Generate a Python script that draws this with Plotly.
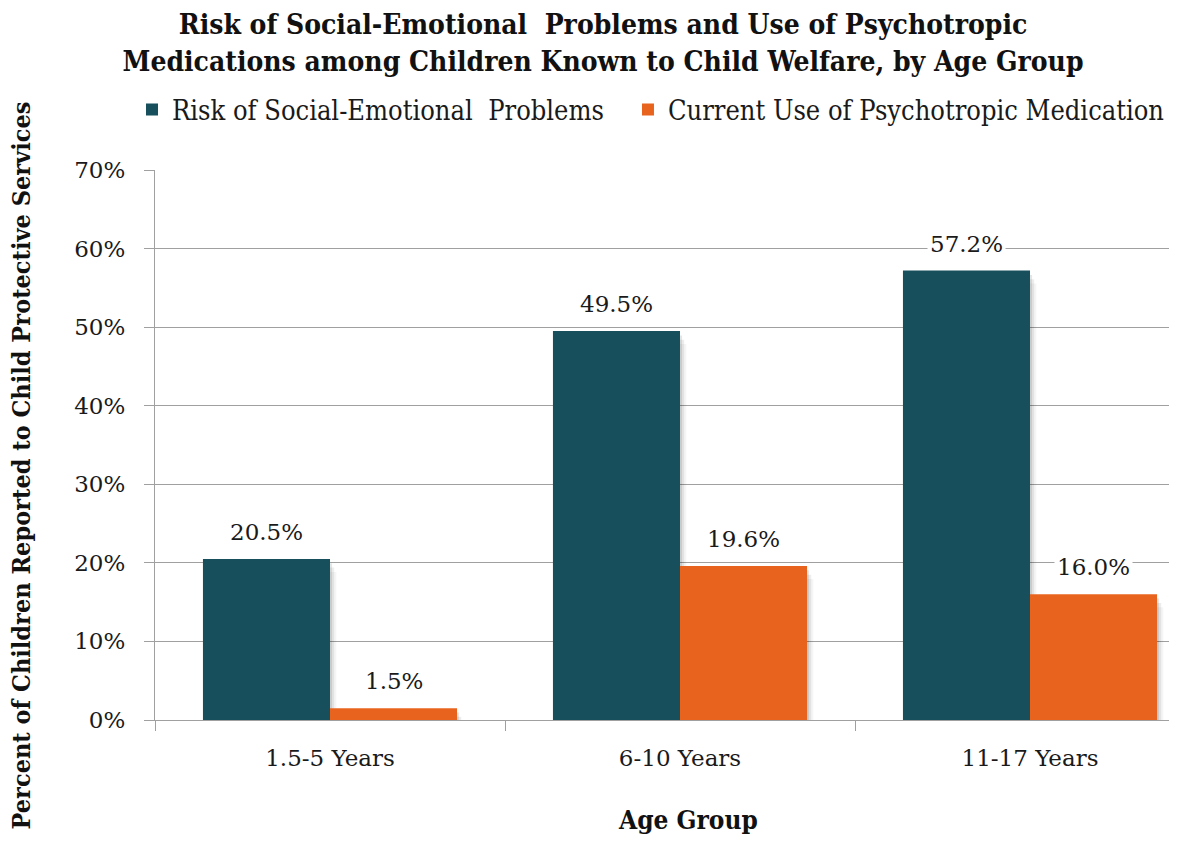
import plotly.graph_objects as go

categories = ["1.5-5 Years", "6-10 Years", "11-17 Years"]
risk_values = [20.5, 49.5, 57.2]
med_values = [1.5, 19.6, 16.0]
series_names = ["Risk of Social-Emotional  Problems", "Current Use of Psychotropic Medication"]
y_ticks = [0, 10, 20, 30, 40, 50, 60, 70]
y_tick_text = ["0%", "10%", "20%", "30%", "40%", "50%", "60%", "70%"]

TEAL = "#17505C"
ORANGE = "#E8641E"
GRID = "#A0A0A0"
BAR_W = 0.363
SERIF = "DejaVu Serif"
COND = "DejaVu Serif Condensed"

fig = go.Figure()

# soft shadows
for vals, off in [(risk_values, -BAR_W), (med_values, 0.0)]:
    for k, (dx, a) in enumerate([(0.006, 0.10), (0.012, 0.07), (0.018, 0.04)]):
        fig.add_trace(go.Bar(
            x=categories, y=[v - 0.3 * (k + 1) for v in vals], base=[-0.25 * (k + 1)] * len(vals),
            width=BAR_W, offset=off + dx, marker=dict(color=f"rgba(0,0,0,{a})", line=dict(width=0)),
            showlegend=False, hoverinfo="skip"))

for name, vals, color, off, leg in [(series_names[0], risk_values, TEAL, -BAR_W, "legend"),
                                     (series_names[1], med_values, ORANGE, 0.0, "legend2")]:
    fig.add_trace(go.Bar(
        x=categories, y=vals, name=name, width=BAR_W, offset=off, legend=leg,
        marker=dict(color=color, line=dict(width=0))))

annotations = []
for i, cat in enumerate(categories):
    for vals, dx in [(risk_values, -BAR_W / 2), (med_values, BAR_W / 2)]:
        annotations.append(dict(
            x=i + dx, y=vals[i], xref="x", yref="y", text=f"{vals[i]:.1f}%",
            showarrow=False, yanchor="middle", yshift=27, bgcolor="white",
            borderpad=2, font=dict(family=SERIF, size=23, color="#1a1a1a")))

annotations.append(dict(
    text="<b>Percent of Children Reported to Child Protective Services</b>",
    xref="paper", yref="paper", x=-0.131, y=0.463, textangle=-90, showarrow=False,
    xanchor="center", yanchor="middle",
    font=dict(family=COND, size=25, color="#111111")))
annotations.append(dict(
    text="<b>Age Group</b>", xref="paper", yref="paper", x=0.5215, y=-0.182,
    showarrow=False, xanchor="center", yanchor="middle",
    font=dict(family=COND, size=26, color="#111111")))

legend_common = dict(orientation="h", yanchor="middle", y=1.109, xanchor="left",
                     font=dict(family=COND, size=27, color="#1a1a1a"),
                     bgcolor="rgba(0,0,0,0)")

fig.update_layout(
    width=1169, height=844,
    margin=dict(l=147, r=0, t=162, b=132, autoexpand=False),
    plot_bgcolor="white", paper_bgcolor="white",
    barmode="overlay",
    title=dict(
        text="<b>Risk of Social-Emotional  Problems and Use of Psychotropic<br>Medications among Children Known to Child Welfare, by Age Group</b>",
        x=0.509, xanchor="center", y=0.969, yanchor="top",
        font=dict(family=COND, size=28, color="#111111")),
    legend=dict(x=-0.0225, **legend_common),
    legend2=dict(x=0.4628, **legend_common),
    annotations=annotations,
    xaxis=dict(type="category", range=[-0.5, 2.42], showgrid=False,
               showline=True, linecolor=GRID, linewidth=1.3,
               ticks="outside", tickson="boundaries", ticklen=10, tickcolor=GRID, tickwidth=1.3,
               tickfont=dict(family=SERIF, size=23, color="#1a1a1a"), ticklabelstandoff=17),
    yaxis=dict(range=[0, 70], tickvals=y_ticks, ticktext=y_tick_text,
               showgrid=True, gridcolor=GRID, gridwidth=1.3,
               showline=True, linecolor=GRID, linewidth=1.3, zeroline=False,
               ticks="outside", ticklen=10, tickcolor=GRID, tickwidth=1.3,
               tickfont=dict(family=SERIF, size=23, color="#1a1a1a"), ticklabelstandoff=14),
)

fig.write_html("out.html")
